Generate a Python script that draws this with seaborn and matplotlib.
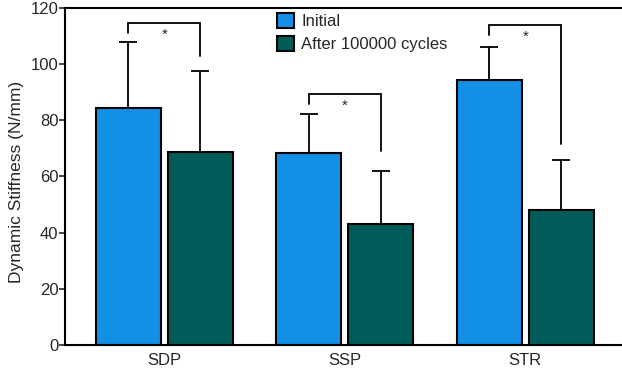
import numpy as np
import pandas as pd
import matplotlib
matplotlib.use('Agg')
import matplotlib.pyplot as plt
import seaborn as sns

# data
materials = ['SDP', 'SSP', 'STR']
groups = ['Initial', 'After 100000 cycles']
initial_mean = [84.3, 68.2, 94.4]
initial_top = [107.7, 82.1, 106.0]   # upper end of error bar
after_mean = [68.8, 43.2, 48.2]
after_top = [97.4, 62.1, 65.7]

# significance brackets (top, left leg end, right leg end)
br_top = [114.6, 89.3, 113.9]
br_left = [111.0, 85.7, 110.4]
br_right = [102.9, 68.9, 71.4]

df = pd.DataFrame({
    'material': materials * 2,
    'group': [groups[0]] * 3 + [groups[1]] * 3,
    'stiffness': initial_mean + after_mean,
})

sns.set_style('white')
plt.rcParams['font.family'] = ['Liberation Sans', 'DejaVu Sans']

fig = plt.figure(figsize=(6.22, 3.70), dpi=100)
ax = fig.add_axes([0.105, 0.0676, 0.895, 0.911])

sns.barplot(data=df, x='material', y='stiffness', hue='group',
            palette=['#1290E6', '#005C58'], saturation=1, width=0.8, gap=0.1,
            edgecolor='black', linewidth=1.5, errorbar=None, ax=ax)

bar_sets = list(ax.containers)
tops = [initial_top, after_top]
means = [initial_mean, after_mean]
centers = []
for k, cont in enumerate(bar_sets):
    xs = [b.get_x() + b.get_width() / 2 for b in cont]
    centers.append(xs)
    m = np.array(means[k])
    up = np.array(tops[k]) - m
    ax.errorbar(xs, m, yerr=[np.zeros_like(up), up], fmt='none',
                ecolor='black', elinewidth=1.3, capsize=6.5, capthick=1.3,
                zorder=3)

for i in range(3):
    x1, x2 = centers[0][i], centers[1][i]
    ax.plot([x1, x1, x2, x2], [br_left[i], br_top[i], br_top[i], br_right[i]],
            color='black', lw=1.3, solid_joinstyle='miter')
    ax.text((x1 + x2) / 2, br_top[i] - 1.6, '*', ha='center', va='top',
            fontsize=11)

ax.set_xlim(-0.549, 2.536)
ax.set_ylim(0, 120)
ax.set_yticks(range(0, 121, 20))
ax.set_xlabel('')
ax.set_ylabel('Dynamic Stiffness (N/mm)', fontsize=12.5)
ax.yaxis.set_label_coords(-0.074, 0.485)
ax.tick_params(axis='y', direction='out', length=4, width=1.2, pad=1,
               labelsize=12, left=True)
ax.tick_params(axis='x', length=0, pad=6, labelsize=12)

for s in ['left', 'bottom', 'top']:
    ax.spines[s].set_linewidth(1.5)
    ax.spines[s].set_color('black')
ax.spines['right'].set_visible(False)

ax.legend(loc='upper left', bbox_to_anchor=(0.380, 0.985), frameon=False,
          fontsize=12, handlelength=1.0, handleheight=1.0, borderpad=0,
          labelspacing=0.4, handletextpad=0.45, borderaxespad=0)

fig.savefig('out.png', dpi=100)
